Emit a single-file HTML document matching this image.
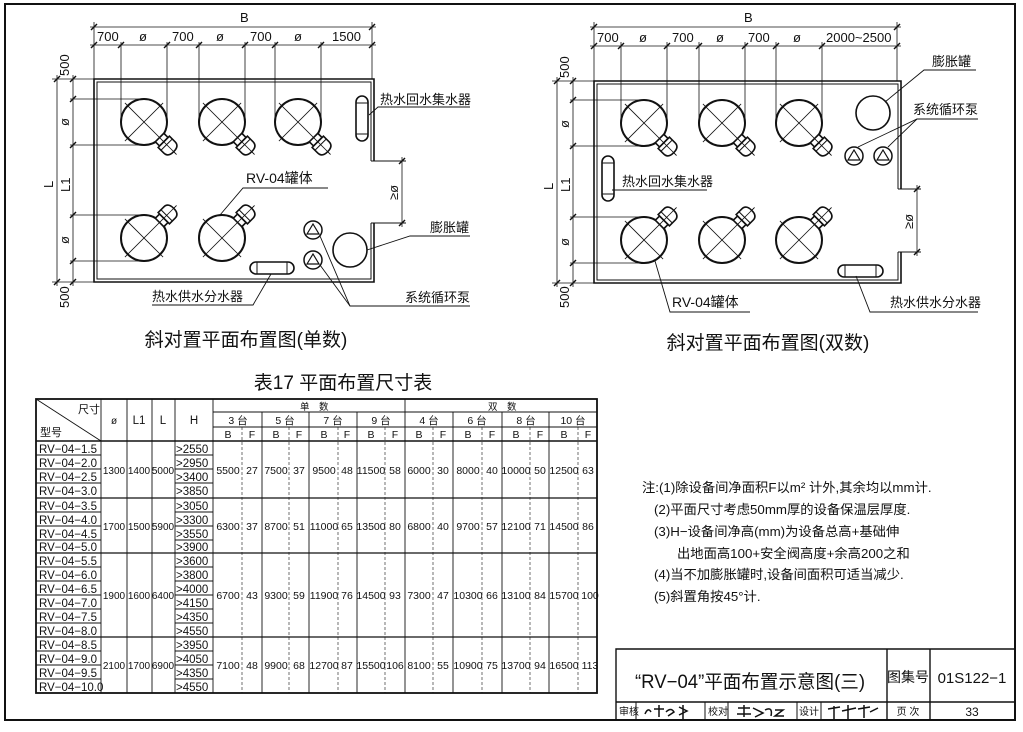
<!DOCTYPE html>
<html><head><meta charset="utf-8"><style>
html,body{margin:0;padding:0;background:#fff;}
svg{display:block;}
text{font-family:"Liberation Sans","Noto Sans CJK SC",sans-serif;fill:#111;}
</style></head><body>
<svg width="1023" height="732" viewBox="0 0 1023 732" xmlns="http://www.w3.org/2000/svg">
<defs>
<g id="tank" stroke="#111" fill="none">
 <circle r="23" stroke-width="2"/>
 <line x1="-27" y1="0" x2="46" y2="0" stroke-width="0.8"/>
 <line x1="0" y1="-27" x2="0" y2="27" stroke-width="0.8"/>
 <rect x="22" y="-6" width="6" height="12" fill="#fff" stroke-width="1.6"/>
 <path d="M28,-8 L36,-8 Q42,-8 42,0 Q42,8 36,8 L28,8 Z" fill="#fff" stroke-width="1.6"/>
 <line x1="32" y1="-8" x2="32" y2="8" stroke-width="1"/>
 <line x1="22" y1="0" x2="46" y2="0" stroke-width="0.8"/>
</g>
<g id="pump" stroke="#111" fill="none" stroke-width="1.5">
 <circle r="9"/>
 <path d="M-6,4 L0,-6 L6,4 Z" stroke-width="1.2"/>
</g>
<path id="tk" d="M-3,3 L3,-3"/>
</defs>

<rect x="5" y="4" width="1010" height="716" fill="none" stroke="#111" stroke-width="2"/>

<!-- LEFT DIAGRAM -->
<g stroke="#111" fill="none">
 <path d="M374,161 L374,79 L94,79 L94,282 L374,282 L374,223" stroke-width="1.6"/>
 <path d="M371,161 L371,82 L97,82 L97,279 L371,279 L371,223" stroke-width="1"/>
 <line x1="371" y1="161" x2="406" y2="161" stroke-width="1"/>
 <line x1="371" y1="223" x2="406" y2="223" stroke-width="1"/>
 <line x1="402" y1="157" x2="402" y2="227" stroke-width="0.8"/>
 <g stroke-width="0.8">
  <line x1="90" y1="27" x2="376" y2="27"/>
  <line x1="90" y1="45" x2="376" y2="45"/>
  <line x1="94" y1="22" x2="94" y2="79"/>
  <line x1="372" y1="22" x2="372" y2="79"/>
  <line x1="121" y1="42" x2="121" y2="122"/>
  <line x1="167" y1="42" x2="167" y2="122"/>
  <line x1="199" y1="42" x2="199" y2="122"/>
  <line x1="245" y1="42" x2="245" y2="122"/>
  <line x1="275" y1="42" x2="275" y2="122"/>
  <line x1="321" y1="42" x2="321" y2="122"/>
  <line x1="57" y1="75" x2="57" y2="286"/>
  <line x1="73" y1="75" x2="73" y2="286"/>
  <line x1="52" y1="79" x2="94" y2="79"/>
  <line x1="52" y1="282" x2="94" y2="282"/>
  <line x1="70" y1="99" x2="144" y2="99"/>
  <line x1="70" y1="145" x2="144" y2="145"/>
  <line x1="70" y1="215" x2="144" y2="215"/>
  <line x1="70" y1="261" x2="144" y2="261"/>
 </g>
 <g stroke-width="1.4">
  <use href="#tk" x="94" y="27"/><use href="#tk" x="372" y="27"/>
  <use href="#tk" x="94" y="45"/><use href="#tk" x="121" y="45"/><use href="#tk" x="167" y="45"/><use href="#tk" x="199" y="45"/><use href="#tk" x="245" y="45"/><use href="#tk" x="275" y="45"/><use href="#tk" x="321" y="45"/><use href="#tk" x="372" y="45"/>
  <use href="#tk" x="57" y="79"/><use href="#tk" x="57" y="282"/>
  <use href="#tk" x="73" y="79"/><use href="#tk" x="73" y="99"/><use href="#tk" x="73" y="145"/><use href="#tk" x="73" y="215"/><use href="#tk" x="73" y="261"/><use href="#tk" x="73" y="282"/>
  <use href="#tk" x="402" y="161"/><use href="#tk" x="402" y="223"/>
 </g>
 <use href="#tank" transform="translate(144,122) rotate(45)"/>
 <use href="#tank" transform="translate(222,122) rotate(45)"/>
 <use href="#tank" transform="translate(298,122) rotate(45)"/>
 <use href="#tank" transform="translate(144,238) rotate(-45)"/>
 <use href="#tank" transform="translate(222,238) rotate(-45)"/>
 <rect x="356" y="96" width="12" height="45" rx="6" stroke-width="1.6"/>
 <line x1="356" y1="103" x2="368" y2="103" stroke-width="1"/>
 <line x1="356" y1="134" x2="368" y2="134" stroke-width="1"/>
 <rect x="250" y="262" width="44" height="12" rx="6" stroke-width="1.6"/>
 <line x1="257" y1="262" x2="257" y2="274" stroke-width="1"/>
 <line x1="287" y1="262" x2="287" y2="274" stroke-width="1"/>
 <use href="#pump" transform="translate(313,230)"/>
 <use href="#pump" transform="translate(313,260)"/>
 <circle cx="350" cy="250" r="17" stroke-width="1.6"/>
 <g stroke-width="0.9">
  <polyline points="369,115 378,107 470,107"/>
  <polyline points="220,215 243,188 328,188"/>
  <polyline points="367,250 410,236 470,236"/>
  <polyline points="271,274 253,305 152,305"/>
  <polyline points="320,236 350,306 470,306"/>
  <line x1="320" y1="265" x2="350" y2="306"/>
 </g>
</g>
<g font-size="13">
 <text x="240" y="22">B</text>
 <text x="97" y="41">700</text><text x="139" y="41">ø</text>
 <text x="172" y="41">700</text><text x="216" y="41">ø</text>
 <text x="250" y="41">700</text><text x="294" y="41">ø</text>
 <text x="332" y="41">1500</text>
 <text transform="translate(69,76) rotate(-90)">500</text>
 <text transform="translate(69,308) rotate(-90)">500</text>
 <text transform="translate(69,126) rotate(-90)">ø</text>
 <text transform="translate(69,244) rotate(-90)">ø</text>
 <text transform="translate(70,192) rotate(-90)">L1</text>
 <text transform="translate(53,188) rotate(-90)">L</text>
 <text transform="translate(398,200) rotate(-90)">≥ø</text>
 <text x="380" y="104">热水回水集水器</text>
 <text x="246" y="183" font-size="14">RV-04罐体</text>
 <text x="430" y="232">膨胀罐</text>
 <text x="152" y="301">热水供水分水器</text>
 <text x="405" y="302">系统循环泵</text>
</g>
<text x="246" y="346" font-size="19" text-anchor="middle">斜对置平面布置图(单数)</text>

<!-- RIGHT DIAGRAM -->
<g stroke="#111" fill="none">
 <path d="M901,189 L901,81 L594,81 L594,283 L901,283 L901,252" stroke-width="1.6"/>
 <path d="M898,189 L898,84 L597,84 L597,280 L898,280 L898,252" stroke-width="1"/>
 <line x1="898" y1="189" x2="921" y2="189" stroke-width="1"/>
 <line x1="898" y1="252" x2="921" y2="252" stroke-width="1"/>
 <line x1="917" y1="185" x2="917" y2="256" stroke-width="0.8"/>
 <g stroke-width="0.8">
  <line x1="590" y1="27" x2="901" y2="27"/>
  <line x1="590" y1="46" x2="901" y2="46"/>
  <line x1="594" y1="22" x2="594" y2="81"/>
  <line x1="897" y1="22" x2="897" y2="81"/>
  <line x1="621" y1="42" x2="621" y2="123"/>
  <line x1="667" y1="42" x2="667" y2="123"/>
  <line x1="699" y1="42" x2="699" y2="123"/>
  <line x1="745" y1="42" x2="745" y2="123"/>
  <line x1="776" y1="42" x2="776" y2="123"/>
  <line x1="822" y1="42" x2="822" y2="123"/>
  <line x1="557" y1="77" x2="557" y2="287"/>
  <line x1="573" y1="77" x2="573" y2="287"/>
  <line x1="552" y1="81" x2="594" y2="81"/>
  <line x1="552" y1="283" x2="594" y2="283"/>
  <line x1="570" y1="100" x2="644" y2="100"/>
  <line x1="570" y1="146" x2="644" y2="146"/>
  <line x1="570" y1="217" x2="644" y2="217"/>
  <line x1="570" y1="263" x2="644" y2="263"/>
 </g>
 <g stroke-width="1.4">
  <use href="#tk" x="594" y="27"/><use href="#tk" x="897" y="27"/>
  <use href="#tk" x="594" y="46"/><use href="#tk" x="621" y="46"/><use href="#tk" x="667" y="46"/><use href="#tk" x="699" y="46"/><use href="#tk" x="745" y="46"/><use href="#tk" x="776" y="46"/><use href="#tk" x="822" y="46"/><use href="#tk" x="897" y="46"/>
  <use href="#tk" x="557" y="81"/><use href="#tk" x="557" y="283"/>
  <use href="#tk" x="573" y="81"/><use href="#tk" x="573" y="100"/><use href="#tk" x="573" y="146"/><use href="#tk" x="573" y="217"/><use href="#tk" x="573" y="263"/><use href="#tk" x="573" y="283"/>
  <use href="#tk" x="917" y="189"/><use href="#tk" x="917" y="252"/>
 </g>
 <use href="#tank" transform="translate(644,123) rotate(45)"/>
 <use href="#tank" transform="translate(722,123) rotate(45)"/>
 <use href="#tank" transform="translate(799,123) rotate(45)"/>
 <use href="#tank" transform="translate(644,240) rotate(-45)"/>
 <use href="#tank" transform="translate(722,240) rotate(-45)"/>
 <use href="#tank" transform="translate(799,240) rotate(-45)"/>
 <rect x="602" y="156" width="12" height="45" rx="6" stroke-width="1.6"/>
 <line x1="602" y1="163" x2="614" y2="163" stroke-width="1"/>
 <line x1="602" y1="194" x2="614" y2="194" stroke-width="1"/>
 <rect x="838" y="265" width="45" height="12" rx="6" stroke-width="1.6"/>
 <line x1="845" y1="265" x2="845" y2="277" stroke-width="1"/>
 <line x1="876" y1="265" x2="876" y2="277" stroke-width="1"/>
 <use href="#pump" transform="translate(854,156)"/>
 <use href="#pump" transform="translate(883,156)"/>
 <circle cx="873" cy="113" r="17" stroke-width="1.6"/>
 <g stroke-width="0.9">
  <polyline points="885,102 924,70 976,70"/>
  <polyline points="858,147 917,119 978,119"/>
  <line x1="888" y1="147" x2="917" y2="119"/>
  <polyline points="612,190 707,190"/>
  <polyline points="655,261 670,312 750,312"/>
  <polyline points="856,276 870,312 978,312"/>
 </g>
</g>
<g font-size="13">
 <text x="744" y="22">B</text>
 <text x="597" y="42">700</text><text x="639" y="42">ø</text>
 <text x="672" y="42">700</text><text x="716" y="42">ø</text>
 <text x="748" y="42">700</text><text x="793" y="42">ø</text>
 <text x="826" y="42">2000~2500</text>
 <text transform="translate(569,78) rotate(-90)">500</text>
 <text transform="translate(569,308) rotate(-90)">500</text>
 <text transform="translate(569,128) rotate(-90)">ø</text>
 <text transform="translate(569,246) rotate(-90)">ø</text>
 <text transform="translate(570,192) rotate(-90)">L1</text>
 <text transform="translate(553,190) rotate(-90)">L</text>
 <text transform="translate(913,229) rotate(-90)">≥ø</text>
 <text x="932" y="66">膨胀罐</text>
 <text x="913" y="114">系统循环泵</text>
 <text x="622" y="186">热水回水集水器</text>
 <text x="672" y="307" font-size="14">RV-04罐体</text>
 <text x="890" y="307">热水供水分水器</text>
</g>
<text x="768" y="349" font-size="19" text-anchor="middle">斜对置平面布置图(双数)</text>

<!-- TABLE -->
<text x="343" y="389" font-size="19" text-anchor="middle">表17  平面布置尺寸表</text>
<g stroke="#111" fill="none">
 <rect x="36" y="399" width="561" height="294" stroke-width="1.8"/>
 <g stroke-width="0.9">
  <line x1="36" y1="441" x2="597" y2="441" stroke-width="1.4"/>
  <line x1="36" y1="498" x2="597" y2="498" stroke-width="1.2"/>
  <line x1="36" y1="553" x2="597" y2="553" stroke-width="1.2"/>
  <line x1="36" y1="637" x2="597" y2="637" stroke-width="1.2"/>
  <line x1="213" y1="412" x2="597" y2="412"/>
  <line x1="213" y1="427" x2="597" y2="427"/>
  <line x1="36" y1="399" x2="101" y2="441"/>
  <line x1="101" y1="399" x2="101" y2="693"/>
  <line x1="127" y1="399" x2="127" y2="693"/>
  <line x1="152" y1="399" x2="152" y2="693"/>
  <line x1="175" y1="399" x2="175" y2="693"/>
  <line x1="213" y1="399" x2="213" y2="693"/>
  <line x1="405" y1="399" x2="405" y2="693"/>
  <line x1="262" y1="412" x2="262" y2="693"/>
  <line x1="309" y1="412" x2="309" y2="693"/>
  <line x1="357" y1="412" x2="357" y2="693"/>
  <line x1="453" y1="412" x2="453" y2="693"/>
  <line x1="502" y1="412" x2="502" y2="693"/>
  <line x1="549" y1="412" x2="549" y2="693"/>
  <g stroke-width="0.6" stroke-dasharray="3,2">
   <line x1="242" y1="427" x2="242" y2="693"/>
   <line x1="289" y1="427" x2="289" y2="693"/>
   <line x1="338" y1="427" x2="338" y2="693"/>
   <line x1="385" y1="427" x2="385" y2="693"/>
   <line x1="433" y1="427" x2="433" y2="693"/>
   <line x1="482" y1="427" x2="482" y2="693"/>
   <line x1="530" y1="427" x2="530" y2="693"/>
   <line x1="578" y1="427" x2="578" y2="693"/>
  </g>
  <path d="M36,455H101M36,469H101M36,483H101 M36,512H101M36,526H101M36,540H101 M36,567H101M36,581H101M36,595H101M36,609H101M36,623H101 M36,651H101M36,665H101M36,679H101"/>
  <path d="M175,455H213M175,469H213M175,483H213 M175,512H213M175,526H213M175,540H213 M175,567H213M175,581H213M175,595H213M175,609H213M175,623H213 M175,651H213M175,665H213M175,679H213"/>
 </g>
</g>
<g font-size="11.5">
 <text x="78" y="413" font-size="11">尺寸</text>
 <text x="40" y="436" font-size="11">型号</text>
 <text x="114" y="424" text-anchor="middle" font-size="10">ø</text>
 <text x="139" y="424" text-anchor="middle">L1</text>
 <text x="163" y="424" text-anchor="middle">L</text>
 <text x="194" y="424" text-anchor="middle">H</text>
 <text x="300" y="410" font-size="9.5">单　数</text>
 <text x="488" y="410" font-size="9.5">双　数</text>
 <g font-size="10.5" text-anchor="middle">
  <text x="238" y="424">3 台</text><text x="285" y="424">5 台</text><text x="333" y="424">7 台</text><text x="381" y="424">9 台</text>
  <text x="429" y="424">4 台</text><text x="477" y="424">6 台</text><text x="526" y="424">8 台</text><text x="573" y="424">10 台</text>
  <text x="228" y="438">B</text><text x="252" y="438">F</text><text x="276" y="438">B</text><text x="299" y="438">F</text>
  <text x="324" y="438">B</text><text x="347" y="438">F</text><text x="371" y="438">B</text><text x="395" y="438">F</text>
  <text x="419" y="438">B</text><text x="443" y="438">F</text><text x="468" y="438">B</text><text x="492" y="438">F</text>
  <text x="516" y="438">B</text><text x="540" y="438">F</text><text x="564" y="438">B</text><text x="588" y="438">F</text>
 </g>
 <g font-size="11.5">
  <text x="39" y="453">RV−04−1.5</text><text x="39" y="467">RV−04−2.0</text><text x="39" y="481">RV−04−2.5</text><text x="39" y="495">RV−04−3.0</text>
  <text x="39" y="510">RV−04−3.5</text><text x="39" y="524">RV−04−4.0</text><text x="39" y="538">RV−04−4.5</text><text x="39" y="551">RV−04−5.0</text>
  <text x="39" y="565">RV−04−5.5</text><text x="39" y="579">RV−04−6.0</text><text x="39" y="593">RV−04−6.5</text><text x="39" y="607">RV−04−7.0</text><text x="39" y="621">RV−04−7.5</text><text x="39" y="635">RV−04−8.0</text>
  <text x="39" y="649">RV−04−8.5</text><text x="39" y="663">RV−04−9.0</text><text x="39" y="677">RV−04−9.5</text><text x="39" y="691">RV−04−10.0</text>
 </g>
 <g font-size="11.5">
  <text x="176" y="453">&gt;2550</text><text x="176" y="467">&gt;2950</text><text x="176" y="481">&gt;3400</text><text x="176" y="495">&gt;3850</text>
  <text x="176" y="510">&gt;3050</text><text x="176" y="524">&gt;3300</text><text x="176" y="538">&gt;3550</text><text x="176" y="551">&gt;3900</text>
  <text x="176" y="565">&gt;3600</text><text x="176" y="579">&gt;3800</text><text x="176" y="593">&gt;4000</text><text x="176" y="607">&gt;4150</text><text x="176" y="621">&gt;4350</text><text x="176" y="635">&gt;4550</text>
  <text x="176" y="649">&gt;3950</text><text x="176" y="663">&gt;4050</text><text x="176" y="677">&gt;4350</text><text x="176" y="691">&gt;4550</text>
 </g>
 <g font-size="10" text-anchor="middle">
  <text x="114" y="474">1300</text><text x="139" y="474">1400</text><text x="163" y="474">5000</text>
  <text x="114" y="530">1700</text><text x="139" y="530">1500</text><text x="163" y="530">5900</text>
  <text x="114" y="599">1900</text><text x="139" y="599">1600</text><text x="163" y="599">6400</text>
  <text x="114" y="669">2100</text><text x="139" y="669">1700</text><text x="163" y="669">6900</text>
 </g>
 <g font-size="10.5" text-anchor="middle">
  <text x="228" y="474">5500</text><text x="252" y="474">27</text><text x="276" y="474">7500</text><text x="299" y="474">37</text><text x="324" y="474">9500</text><text x="347" y="474">48</text><text x="371" y="474">11500</text><text x="395" y="474">58</text><text x="419" y="474">6000</text><text x="443" y="474">30</text><text x="468" y="474">8000</text><text x="492" y="474">40</text><text x="516" y="474">10000</text><text x="540" y="474">50</text><text x="564" y="474">12500</text><text x="588" y="474">63</text>
  <text x="228" y="530">6300</text><text x="252" y="530">37</text><text x="276" y="530">8700</text><text x="299" y="530">51</text><text x="324" y="530">11000</text><text x="347" y="530">65</text><text x="371" y="530">13500</text><text x="395" y="530">80</text><text x="419" y="530">6800</text><text x="443" y="530">40</text><text x="468" y="530">9700</text><text x="492" y="530">57</text><text x="516" y="530">12100</text><text x="540" y="530">71</text><text x="564" y="530">14500</text><text x="588" y="530">86</text>
  <text x="228" y="599">6700</text><text x="252" y="599">43</text><text x="276" y="599">9300</text><text x="299" y="599">59</text><text x="324" y="599">11900</text><text x="347" y="599">76</text><text x="371" y="599">14500</text><text x="395" y="599">93</text><text x="419" y="599">7300</text><text x="443" y="599">47</text><text x="468" y="599">10300</text><text x="492" y="599">66</text><text x="516" y="599">13100</text><text x="540" y="599">84</text><text x="564" y="599">15700</text><text x="590" y="599">100</text>
  <text x="228" y="669">7100</text><text x="252" y="669">48</text><text x="276" y="669">9900</text><text x="299" y="669">68</text><text x="324" y="669">12700</text><text x="347" y="669">87</text><text x="371" y="669">15500</text><text x="395" y="669">106</text><text x="419" y="669">8100</text><text x="443" y="669">55</text><text x="468" y="669">10900</text><text x="492" y="669">75</text><text x="516" y="669">13700</text><text x="540" y="669">94</text><text x="564" y="669">16500</text><text x="590" y="669">113</text>
 </g>
</g>

<!-- NOTES -->
<g font-size="13.3">
 <text x="642" y="492">注:(1)除设备间净面积F以m² 计外,其余均以mm计.</text>
 <text x="654" y="514">(2)平面尺寸考虑50mm厚的设备保温层厚度.</text>
 <text x="654" y="536">(3)H−设备间净高(mm)为设备总高+基础伸</text>
 <text x="677" y="558">出地面高100+安全阀高度+余高200之和</text>
 <text x="654" y="579">(4)当不加膨胀罐时,设备间面积可适当减少.</text>
 <text x="654" y="601">(5)斜置角按45°计.</text>
</g>

<!-- TITLE BLOCK -->
<g stroke="#111" fill="none" stroke-width="1.4">
 <path d="M616,720 L616,649 L1015,649"/>
 <line x1="616" y1="702" x2="1015" y2="702"/>
 <line x1="887" y1="649" x2="887" y2="720"/>
 <line x1="930" y1="649" x2="930" y2="720"/>
 <g stroke-width="1">
  <line x1="636" y1="702" x2="636" y2="720"/>
  <line x1="705" y1="702" x2="705" y2="720"/>
  <line x1="728" y1="702" x2="728" y2="720"/>
  <line x1="797" y1="702" x2="797" y2="720"/>
  <line x1="821" y1="702" x2="821" y2="720"/>
 </g>
 <g stroke-width="1.5">
  <path d="M645,714 q3,-7 6,-2 M654,709 l10,0 M659,705 l0,12 M666,712 q5,-5 8,0 l-6,4 M679,707 l8,4 l-8,4 M683,705 l0,14"/>
  <path d="M738,708 l12,0 M744,705 l0,12 M737,714 l14,0 M753,708 l10,5 l-8,4 M765,710 q8,-4 6,6 M775,710 l8,0 l-8,6 l9,0"/>
  <path d="M828,709 l12,-2 M834,706 l0,13 M842,711 l14,-3 M848,705 l0,14 M858,709 l12,-2 M864,705 l0,13 M870,712 l8,-4"/>
 </g>
</g>
<text x="635" y="688" font-size="19" textLength="230" lengthAdjust="spacingAndGlyphs">“RV−04”平面布置示意图(三)</text>
<text x="908" y="682" font-size="14" text-anchor="middle">图集号</text>
<text x="972" y="683" font-size="15" text-anchor="middle">01S122−1</text>
<g font-size="10">
 <text x="619" y="715">审核</text>
 <text x="708" y="715">校对</text>
 <text x="799" y="715">设计</text>
 <text x="908" y="715" text-anchor="middle">页 次</text>
 <text x="972" y="716" text-anchor="middle" font-size="12">33</text>
</g>
</svg>
</body></html>
